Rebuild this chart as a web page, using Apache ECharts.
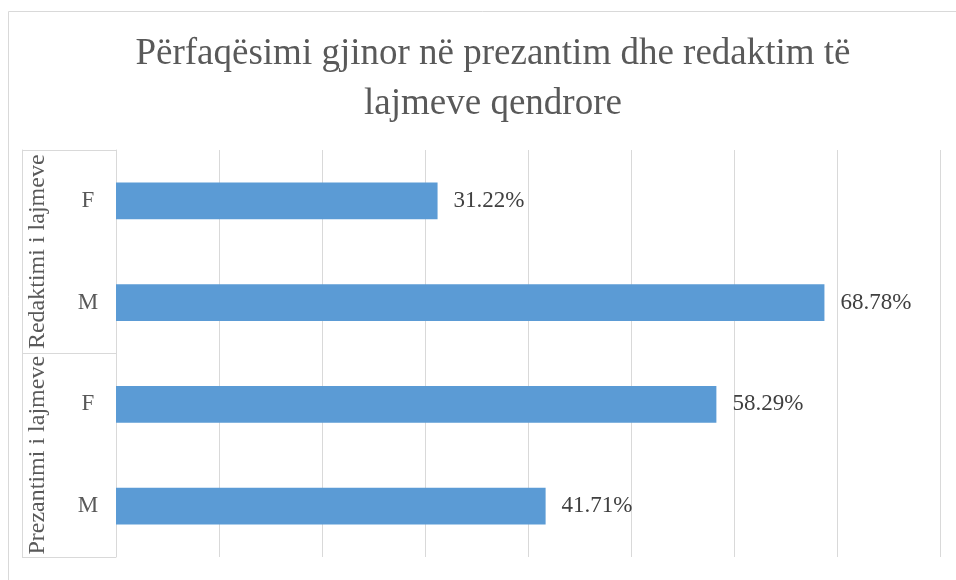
<!DOCTYPE html>
<html lang="sq">
<head>
    <meta charset="UTF-8">
    <title>Përfaqësimi gjinor</title>
    <script src="https://cdn.jsdelivr.net/npm/echarts@6/dist/echarts.min.js"></script>
    <style>
        html, body { margin: 0; padding: 0; background: #fff; }
        #main { width: 956px; height: 580px; }
    </style>
</head>
<body>
    <div id="main"></div>
    <script>
        // te dhenat (nga poshte lart, si ne grafik)
        var titleText = 'Përfaqësimi gjinor në prezantim dhe redaktim të\nlajmeve qendrore';
        var categories = ['M', 'F', 'M', 'F'];
        var groups = ['Prezantimi i lajmeve', 'Redaktimi i lajmeve'];
        var values = [41.71, 58.29, 68.78, 31.22];
        var xMin = 0;
        var xMax = 80;
        var xInterval = 10;

        var font = 'Liberation Serif, Times New Roman, serif';
        var lineColor = '#d9d9d9';

        var chart = echarts.init(document.getElementById('main'));
        chart.setOption({
            animation: false,
            title: {
                text: titleText,
                left: 488,
                textAlign: 'center',
                top: 24,
                textStyle: {
                    fontFamily: font,
                    fontSize: 37,
                    fontWeight: 'normal',
                    color: '#595959',
                    lineHeight: 50
                }
            },
            graphic: [{
                type: 'rect',
                shape: { x: 8.5, y: 11.5, width: 1000, height: 1000 },
                style: { fill: 'none', stroke: lineColor, lineWidth: 1 }
            }],
            grid: {
                left: 116,
                right: 16,
                top: 150,
                bottom: 23
            },
            xAxis: {
                type: 'value',
                min: xMin,
                max: xMax,
                interval: xInterval,
                axisLabel: { show: false },
                axisLine: { show: false },
                axisTick: { show: false },
                splitLine: { lineStyle: { color: lineColor, width: 1 } }
            },
            yAxis: [{
                type: 'category',
                data: categories,
                axisLine: { lineStyle: { color: lineColor } },
                axisTick: { show: false },
                axisLabel: {
                    fontFamily: font,
                    fontSize: 23,
                    color: '#595959',
                    align: 'center',
                    margin: 28
                }
            }, {
                type: 'category',
                data: groups,
                position: 'left',
                offset: 94,
                axisLine: { lineStyle: { color: lineColor } },
                axisTick: {
                    show: true,
                    inside: true,
                    length: 94,
                    interval: 0,
                    lineStyle: { color: lineColor }
                },
                axisLabel: {
                    inside: true,
                    rotate: 90,
                    margin: 4,
                    interval: 0,
                    fontFamily: font,
                    fontSize: 24,
                    color: '#595959'
                }
            }],
            series: [{
                type: 'bar',
                yAxisIndex: 0,
                data: values,
                barCategoryGap: '64%',
                itemStyle: { color: '#5b9bd5' },
                label: {
                    show: true,
                    position: 'right',
                    distance: 16,
                    fontFamily: font,
                    fontSize: 23,
                    color: '#404040',
                    formatter: function (p) {
                        return p.value.toFixed(2) + '%';
                    }
                }
            }]
        });
    </script>
</body>
</html>
